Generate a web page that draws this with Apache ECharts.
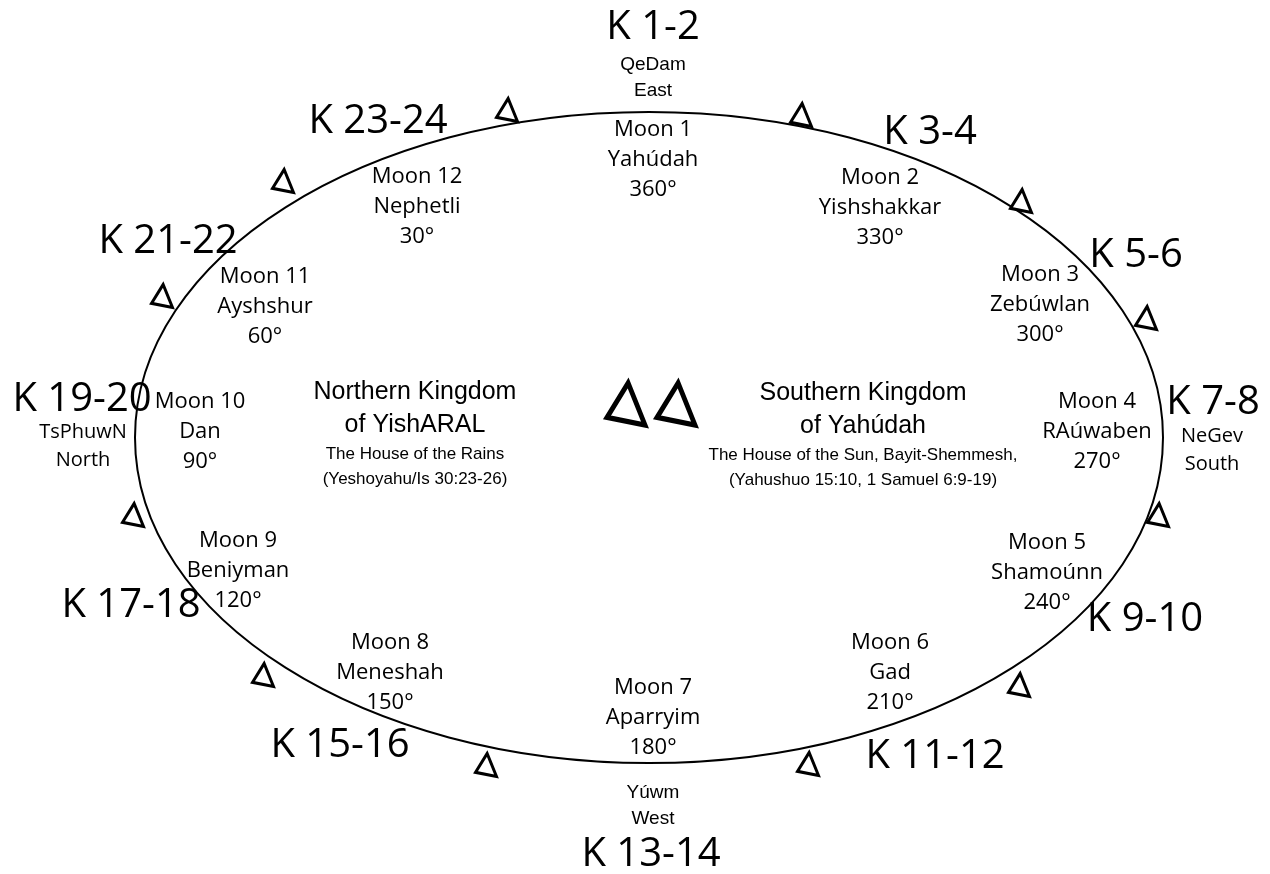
<!DOCTYPE html>
<html>
<head>
<meta charset="utf-8">
<title>Moons around the camp</title>
<script src="https://cdn.jsdelivr.net/npm/echarts@6/dist/echarts.min.js"></script>
<style>
    html, body { margin: 0; padding: 0; background: #fff; }
    #main { width: 1270px; height: 874px; }
</style>
</head>
<body>
<div id="main"></div>
<script>
// layout space follows the picture: x 0..1270, y 0..874 counted from the top
var ringCenter = [649, 437.5];
var ringRadii = [514, 325.5];

var kLabels = ['K 1-2', 'K 3-4', 'K 5-6', 'K 7-8', 'K 9-10', 'K 11-12',
               'K 13-14', 'K 15-16', 'K 17-18', 'K 19-20', 'K 21-22', 'K 23-24'];
var kPos = [[653, 28], [930, 133], [1136, 256], [1213, 403], [1145, 620], [935, 757],
            [651, 855], [340, 746], [131, 606], [82, 400], [168, 242], [378, 122]];

var moonNames = ['Yahúdah', 'Yishshakkar', 'Zebúwlan', 'RAúwaben', 'Shamoúnn', 'Gad',
                 'Aparryim', 'Meneshah', 'Beniyman', 'Dan', 'Ayshshur', 'Nephetli'];
var moonDegrees = [360, 330, 300, 270, 240, 210, 180, 150, 120, 90, 60, 30];
var moonPos = [[653, 160], [880, 208], [1040, 305], [1097, 432], [1047, 573], [890, 673],
               [653, 718], [390, 673], [238, 571], [200, 432], [265, 307], [417, 207]];

// compass words: east and west set in one face, north and south in another
var compassA = ['QeDam\nEast', 'Yúwm\nWest'];
var compassAPos = [[653, 78], [653, 806]];
var compassB = ['NeGev\nSouth', 'TsPhuwN\nNorth'];
var compassBPos = [[1212, 450], [83, 446]];

var kingdomTitles = [['Northern Kingdom', 'of YishARAL'], ['Southern Kingdom', 'of Yahúdah']];
var kingdomNotes = [['The House of the Rains', '(Yeshoyahu/Is 30:23-26)'],
                    ['The House of the Sun, Bayit-Shemmesh,', '(Yahushuo 15:10, 1 Samuel 6:9-19)']];
var kingdomPos = [[415, 434], [863, 435]];

var smallTriPos = [[507, 110], [801, 115], [1021, 201], [1146, 318], [1158, 515], [1019, 685],
                   [808, 764], [486, 765], [263, 675], [133, 515], [162, 296], [283, 181]];
var bigTriPos = [[626, 404], [676, 404]];

var triPath = 'path://M40,0 L0,64 L72,78 Z';

var chart = echarts.init(document.getElementById('main'));

function textSeries(points, labelOpt, z) {
    return {
        type: 'scatter',
        symbolSize: 1,
        itemStyle: { color: 'rgba(0,0,0,0)', opacity: 1 },
        silent: true,
        z: z,
        emphasis: { disabled: true },
        label: Object.assign({
            show: true,
            position: 'inside',
            align: 'center',
            verticalAlign: 'middle',
            color: '#000',
            opacity: 1,
            formatter: function (p) { return p.name; }
        }, labelOpt),
        data: points
    };
}

var kData = kLabels.map(function (t, i) { return { name: t, value: kPos[i] }; });
var moonData = moonNames.map(function (n, i) {
    return { name: 'Moon ' + (i + 1) + '\n' + n + '\n' + moonDegrees[i] + '°', value: moonPos[i] };
});
var compassAData = compassA.map(function (t, i) { return { name: t, value: compassAPos[i] }; });
var compassBData = compassB.map(function (t, i) { return { name: t, value: compassBPos[i] }; });
var kingdomData = kingdomTitles.map(function (t, i) {
    return {
        name: '{t|' + t[0] + '}\n{t|' + t[1] + '}\n{s|' + kingdomNotes[i][0] + '}\n{s|' + kingdomNotes[i][1] + '}',
        value: kingdomPos[i]
    };
});

var option = {
    animation: false,
    backgroundColor: '#fff',
    grid: { left: 0, right: 0, top: 0, bottom: 0 },
    xAxis: { type: 'value', min: 0, max: 1270, show: false },
    yAxis: { type: 'value', min: 0, max: 874, inverse: true, show: false },
    series: [
        {
            type: 'custom',
            coordinateSystem: 'cartesian2d',
            silent: true,
            z: 1,
            data: [[ringCenter[0], ringCenter[1], ringRadii[0], ringRadii[1]]],
            renderItem: function (params, api) {
                var c = api.coord([api.value(0), api.value(1)]);
                var s = api.size([api.value(2), api.value(3)]);
                return {
                    type: 'ellipse',
                    shape: { cx: c[0], cy: c[1], rx: Math.abs(s[0]), ry: Math.abs(s[1]) },
                    style: { fill: 'none', stroke: '#000', lineWidth: 2 }
                };
            }
        },
        {
            type: 'scatter',
            symbol: triPath,
            symbolSize: [21, 23],
            silent: true,
            z: 2,
            itemStyle: { color: '#fff', borderColor: '#000', borderWidth: 3, opacity: 1 },
            emphasis: { disabled: true },
            data: smallTriPos
        },
        {
            type: 'scatter',
            symbol: triPath,
            symbolSize: [38, 42],
            silent: true,
            z: 2,
            itemStyle: { color: '#fff', borderColor: '#000', borderWidth: 5, opacity: 1 },
            emphasis: { disabled: true },
            data: bigTriPos
        },
        textSeries(kData, { fontFamily: 'Open Sans', fontSize: 40 }, 3),
        textSeries(moonData, { fontFamily: 'Open Sans', fontSize: 22, lineHeight: 30 }, 3),
        textSeries(compassAData, { fontFamily: 'Liberation Sans', fontSize: 19, lineHeight: 26 }, 3),
        textSeries(compassBData, { fontFamily: 'Open Sans', fontSize: 20, lineHeight: 28 }, 3),
        textSeries(kingdomData, {
            fontFamily: 'Liberation Sans',
            rich: {
                t: { fontFamily: 'Liberation Sans', fontSize: 25, lineHeight: 33, color: '#000', align: 'center' },
                s: { fontFamily: 'Liberation Sans', fontSize: 17, lineHeight: 25, color: '#000', align: 'center' }
            }
        }, 3)
    ]
};

chart.setOption(option);

window.addEventListener('resize', function () {
    chart.resize();
});
</script>
</body>
</html>
